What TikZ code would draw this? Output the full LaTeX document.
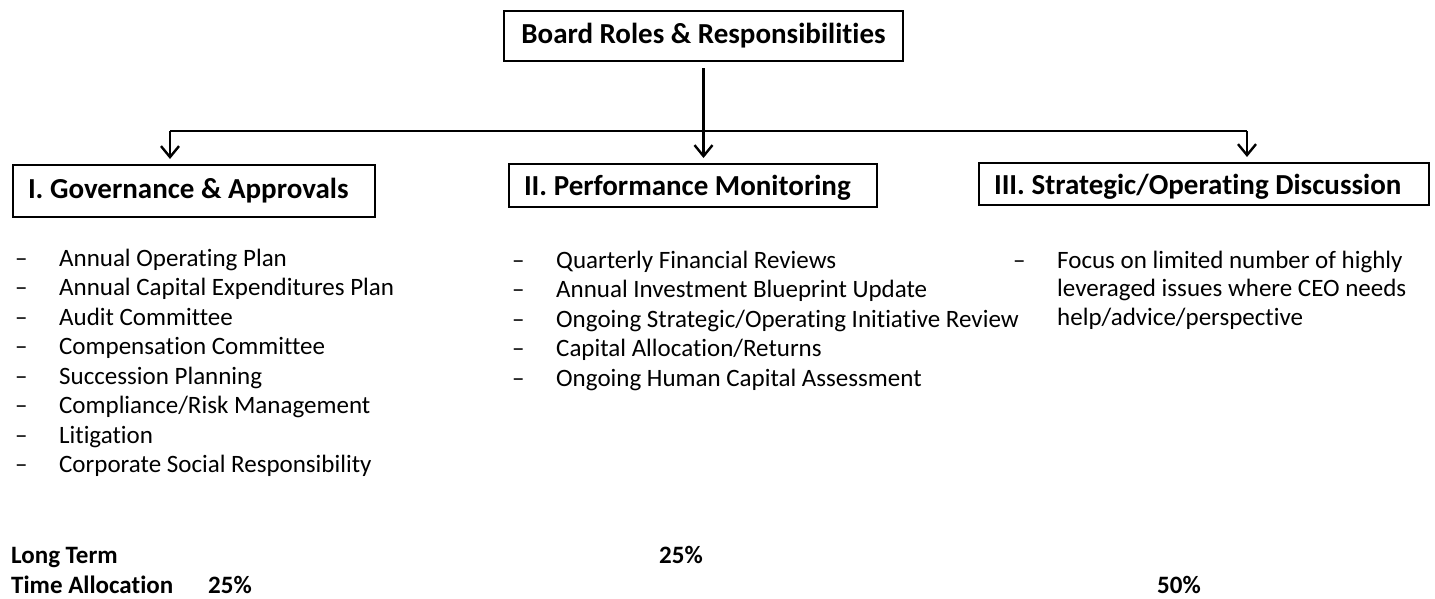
\documentclass[tikz,border=0pt]{standalone}
\usepackage{fontspec}
\setmainfont[Ligatures=NoCommon]{Carlito}
\usetikzlibrary{positioning,arrows.meta}

\newcommand{\itemdash}{\makebox[44pt][l]{--}}

\begin{document}
\begin{tikzpicture}[x=1pt,y=-1pt,
    every node/.style={inner sep=0pt},
    headbox/.style={draw, line width=2pt, font=\bfseries\fontsize{29}{33}\selectfont, inner xsep=15pt, align=flush left},
    item/.style={anchor=base west, font=\fontsize{25}{29.5}\selectfont},
    note/.style={anchor=base west, font=\bfseries\fontsize{25}{29}\selectfont},
    link/.style={line width=2.4pt},
    arrow/.style={link, -{Straight Barb[length=11pt,width=18pt]}, shorten >=5pt}]
    \useasboundingbox (0,0) rectangle (1435,598);

    % top box and the three areas
    \node[headbox, align=center, minimum width=399pt, minimum height=50pt] (board) at (703.5,36) {Board Roles \& Responsibilities};
    \node[headbox, text width=332pt, minimum height=52pt] (gov) at (194,191) {I. Governance \& Approvals};
    \node[headbox, text width=338pt, minimum height=43pt, text depth=0pt] (perf) at (693,185.5) {II. Performance Monitoring};
    \node[headbox, text width=420pt, minimum height=42pt, text depth=0pt] (strat) at (1204,184) {III. Strategic/Operating Discussion};

    % connectors
    \coordinate (busL) at (170,131);
    \coordinate (busR) at (1247,131);
    \draw[link] (busL) -- (busR);
    \draw[arrow, shorten <=6pt] (board.south) -- (board.south |- perf.north);
    \draw[arrow] (busL) -- (busL |- gov.north);
    \draw[arrow] (busR) -- (busR |- strat.north);

    % governance list
    \node[item] (gov1) at (15,266) {\itemdash Annual Operating Plan};
    \node[item] (gov2) at (15,295.5) {\itemdash Annual Capital Expenditures Plan};
    \node[item] (gov3) at (15,325) {\itemdash Audit Committee};
    \node[item] (gov4) at (15,354.5) {\itemdash Compensation Committee};
    \node[item] (gov5) at (15,384) {\itemdash Succession Planning};
    \node[item] (gov6) at (15,413.5) {\itemdash Compliance/Risk Management};
    \node[item] (gov7) at (15,443) {\itemdash Litigation};
    \node[item] (gov8) at (15,472.5) {\itemdash Corporate Social Responsibility};

    % monitoring list
    \node[item] (perf1) at (512,268) {\itemdash Quarterly Financial Reviews};
    \node[item] (perf2) at (512,297.5) {\itemdash Annual Investment Blueprint Update};
    \node[item] (perf3) at (512,327) {\itemdash Ongoing Strategic/Operating Initiative Review};
    \node[item] (perf4) at (512,356.5) {\itemdash Capital Allocation/Returns};
    \node[item] (perf5) at (512,386) {\itemdash Ongoing Human Capital Assessment};

    % discussion list
    \node[item] (strat1) at (1013,268) {\itemdash Focus on limited number of highly};
    \node[item] (strat2) at (1057,296.5) {leveraged issues where CEO needs};
    \node[item] (strat3) at (1057,325) {help/advice/perspective};

    % time allocation
    \node[note] (longterm) at (11,563) {Long Term};
    \node[note] (timealloc) at (11,593) {Time Allocation};
    \node[note] (share1) at (208,593) {25\%};
    \node[note] (share2) at (659,563) {25\%};
    \node[note] (share3) at (1157,593) {50\%};
\end{tikzpicture}
\end{document}
